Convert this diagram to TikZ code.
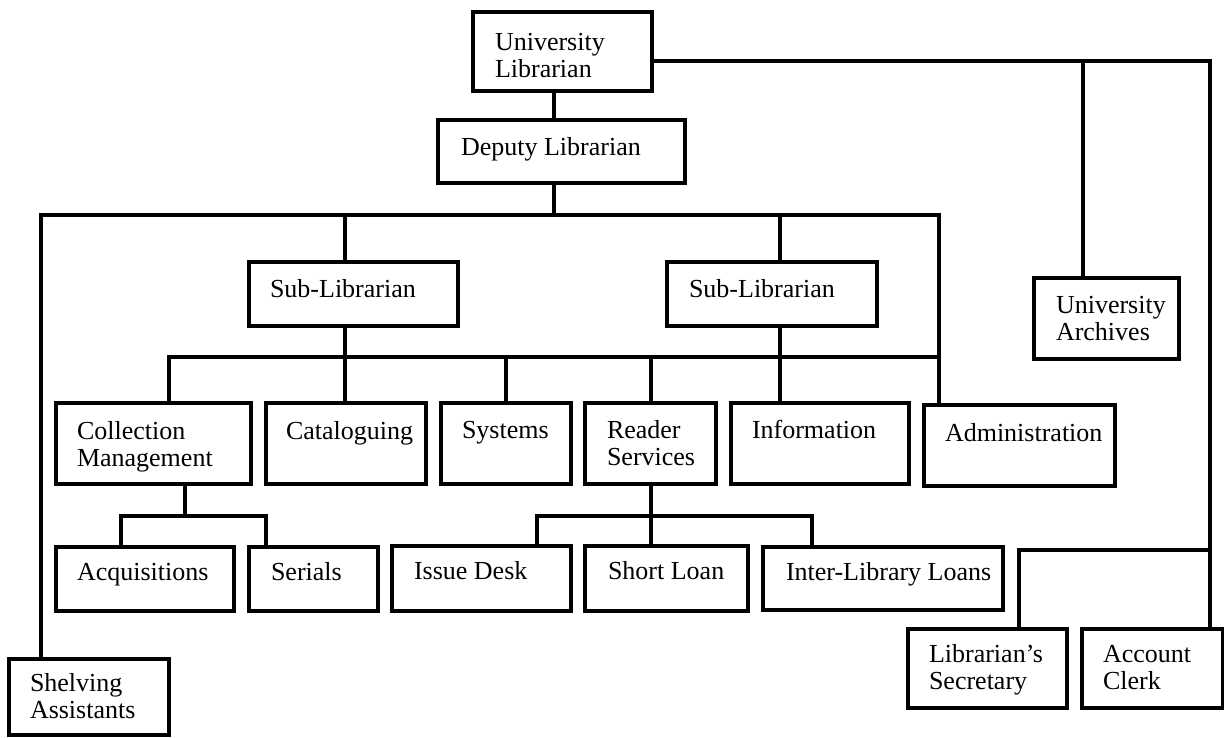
\documentclass[tikz,border=0pt]{standalone}
\usepackage{fontspec}
\setmainfont{Liberation Serif}
\begin{document}
\begin{tikzpicture}[x=1pt,y=-1pt,
  unit/.style={draw, rectangle, line width=3.4pt, inner sep=0pt, outer sep=0pt},
  link/.style={line width=3.2pt, line cap=rect, line join=miter},
  caption/.style={anchor=base west, inner sep=0pt, outer sep=0pt,
                  font=\fontsize{26}{27}\selectfont}]
\useasboundingbox (0,0) rectangle (1224,737);

% box: name, left, top, right, bottom
\newcommand\orgunit[5]{%
  \node[unit, minimum width={#4-#2}, minimum height={#5-#3}]
    (#1) at ({(#2+#4)/2},{(#3+#5)/2}) {};}
% label: name, x, baseline y, text
\newcommand\orglabel[4]{%
  \node[caption] (#1) at (#2,#3)
    {\begin{tabular}[t]{@{}l@{}}#4\end{tabular}};}

% ---- boxes ----
\orgunit{ul}{473}{12}{652}{91}
\orgunit{dl}{438}{120}{685}{183}
\orgunit{subA}{249}{262}{458}{326}
\orgunit{subB}{667}{262}{877}{326}
\orgunit{arch}{1034}{278}{1179}{359}
\orgunit{coll}{56}{403}{251}{484}
\orgunit{cat}{266}{403}{426}{484}
\orgunit{sys}{441}{403}{571}{484}
\orgunit{rs}{585}{403}{716}{484}
\orgunit{info}{731}{403}{909}{484}
\orgunit{adm}{924}{405}{1115}{486}
\orgunit{acq}{56}{547}{234}{611}
\orgunit{ser}{249}{547}{378}{611}
\orgunit{desk}{392}{546}{571}{611}
\orgunit{short}{585}{546}{748}{611}
\orgunit{ill}{763}{547}{1003}{610}
\orgunit{shelv}{9}{659}{169}{735}
\orgunit{sec}{908}{629}{1067}{708}
\orgunit{clerk}{1082}{629}{1223}{708}

% ---- labels ----
\orglabel{ul-t}{495}{50}{University\\Librarian}
\orglabel{dl-t}{461}{155}{Deputy Librarian}
\orglabel{subA-t}{270}{297}{Sub-Librarian}
\orglabel{subB-t}{689}{297}{Sub-Librarian}
\orglabel{arch-t}{1056}{313}{University\\Archives}
\orglabel{coll-t}{77}{439}{Collection\\Management}
\orglabel{cat-t}{286}{439}{Cataloguing}
\orglabel{sys-t}{462}{438}{Systems}
\orglabel{rs-t}{607}{438}{Reader\\Services}
\orglabel{info-t}{752}{438}{Information}
\orglabel{adm-t}{945}{441}{Administration}
\orglabel{acq-t}{77}{580}{Acquisitions}
\orglabel{ser-t}{271}{580}{Serials}
\orglabel{desk-t}{414}{579}{Issue Desk}
\orglabel{short-t}{608}{579}{Short Loan}
\orglabel{ill-t}{786}{580}{Inter-Library Loans}
\orglabel{shelv-t}{30}{691}{Shelving\\Assistants}
\orglabel{sec-t}{929}{662}{Librarian’s\\Secretary}
\orglabel{clerk-t}{1103}{662}{Account\\Clerk}

% ---- bus levels and drop positions ----
\coordinate (top) at (0,61);
\coordinate (b1) at (0,215);
\coordinate (b2) at (0,357);
\coordinate (b3) at (0,516);
\coordinate (b4) at (0,550);
\coordinate (xDL) at (554,0);
\coordinate (xShelv) at (41,0);
\coordinate (xSubA) at (345,0);
\coordinate (xSubB) at (780,0);
\coordinate (xAdm) at (939,0);
\coordinate (xColl) at (169,0);
\coordinate (xSys) at (506,0);
\coordinate (xRS) at (651,0);
\coordinate (xCollD) at (185,0);
\coordinate (xAcq) at (121,0);
\coordinate (xSer) at (266,0);
\coordinate (xDesk) at (537,0);
\coordinate (xIll) at (812,0);
\coordinate (xArch) at (1083,0);
\coordinate (xClerk) at (1210,0);
\coordinate (xSec) at (1019,0);

% ---- connectors ----
\draw[link] (ul.south -| xDL) -- (dl.north -| xDL);
\draw[link] (ul.east |- top) -- (xClerk |- top) -- (clerk.north -| xClerk);
\draw[link] (xArch |- top) -- (arch.north -| xArch);
\draw[link] (xClerk |- b4) -- (xSec |- b4) -- (sec.north -| xSec);

\draw[link] (dl.south -| xDL) -- (xDL |- b1);
\draw[link] (shelv.north -| xShelv) -- (xShelv |- b1) -- (xAdm |- b1) -- (adm.north -| xAdm);
\draw[link] (xSubA |- b1) -- (subA.north -| xSubA);
\draw[link] (xSubB |- b1) -- (subB.north -| xSubB);

\draw[link] (subA.south -| xSubA) -- (cat.north -| xSubA);
\draw[link] (subB.south -| xSubB) -- (info.north -| xSubB);
\draw[link] (coll.north -| xColl) -- (xColl |- b2) -- (xAdm |- b2);
\draw[link] (xSys |- b2) -- (sys.north -| xSys);
\draw[link] (xRS |- b2) -- (rs.north -| xRS);

\draw[link] (coll.south -| xCollD) -- (xCollD |- b3);
\draw[link] (acq.north -| xAcq) -- (xAcq |- b3) -- (xSer |- b3) -- (ser.north -| xSer);
\draw[link] (rs.south -| xRS) -- (short.north -| xRS);
\draw[link] (desk.north -| xDesk) -- (xDesk |- b3) -- (xIll |- b3) -- (ill.north -| xIll);
\end{tikzpicture}
\end{document}
